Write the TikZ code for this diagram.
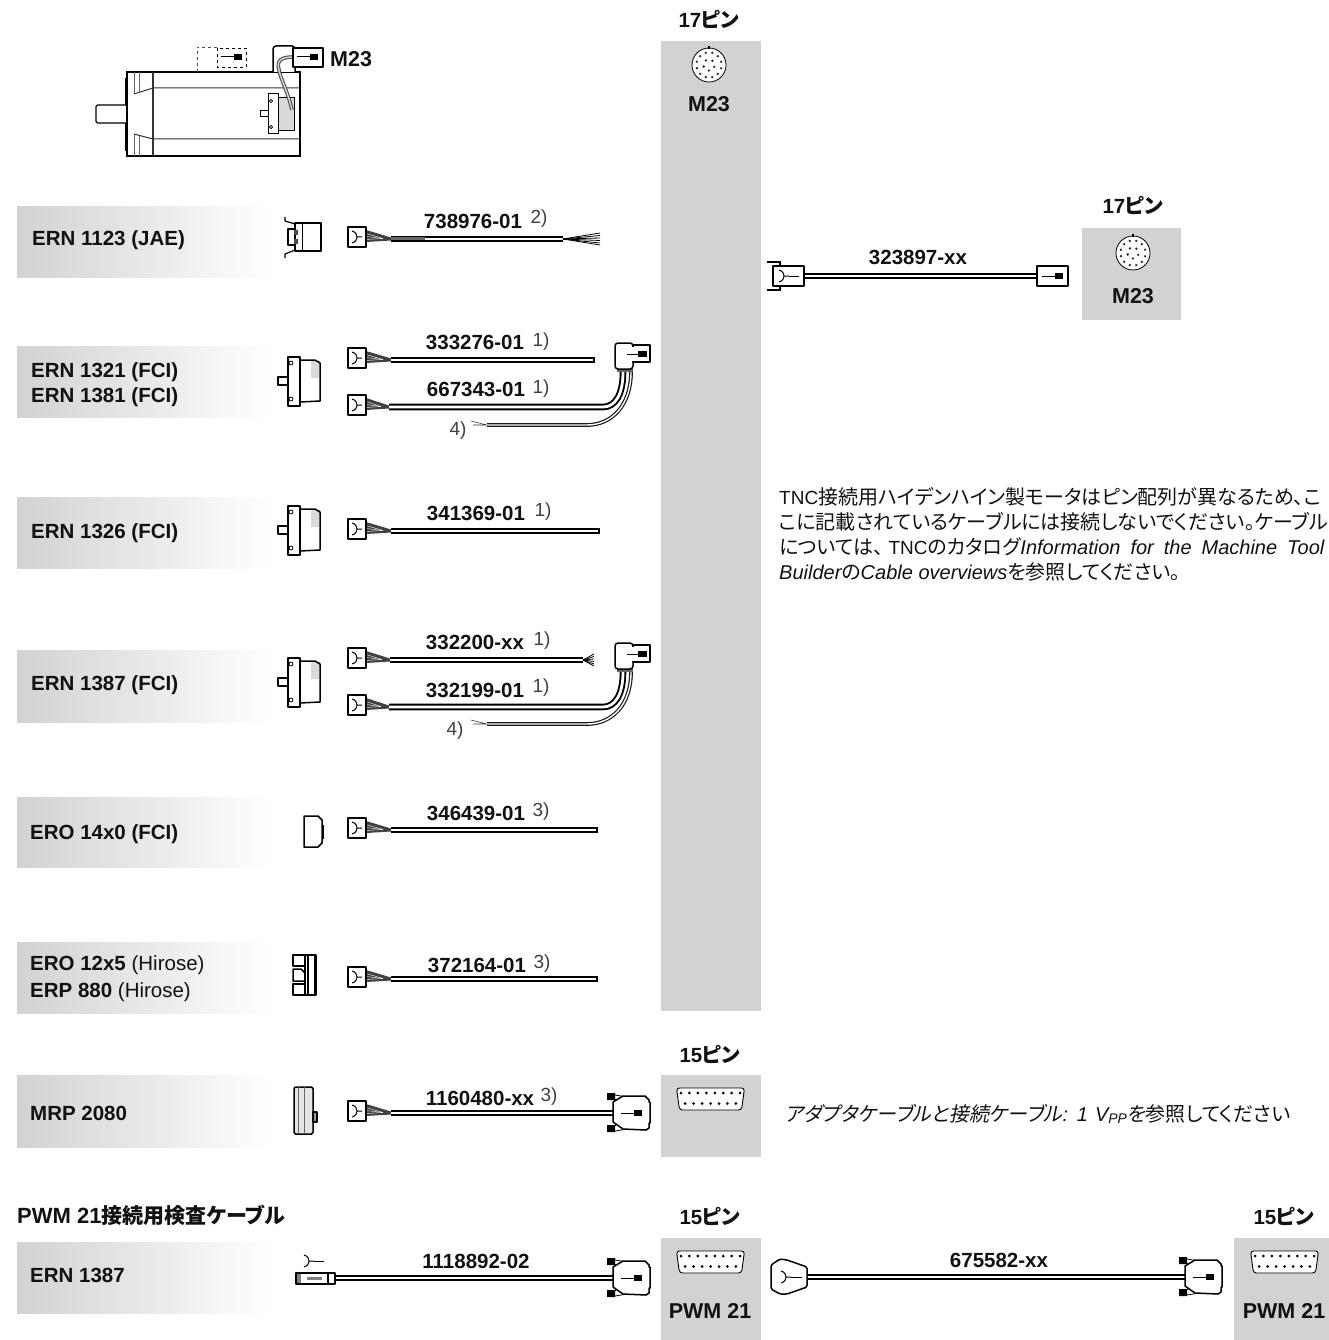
\documentclass[tikz,border=0pt]{standalone}
\usepackage{fontspec}
\usepackage{xcolor}
\usepackage{tikz}
\setmainfont{Liberation Sans}
\newfontfamily\jpfont[RawFeature={+palt}]{Noto Sans CJK JP}
\newfontfamily\jpslant[FakeSlant=0.2,RawFeature={+palt}]{Noto Sans CJK JP}
\definecolor{panelc}{HTML}{D2D2D3}
\definecolor{bodyc}{HTML}{DADADA}
\definecolor{notec}{HTML}{404040}
\definecolor{inkc}{HTML}{111111}
\tikzset{
  pinlabel/.style={font=\fontsize{20.5}{20}\selectfont\bfseries,inner sep=0pt,anchor=base,inkc},
  panellabel/.style={font=\fontsize{21.5}{20}\selectfont\bfseries,inner sep=0pt,anchor=base,inkc},
  partno/.style={font=\fontsize{20.5}{20}\selectfont\bfseries,inner sep=0pt,anchor=base,inkc},
  enclabel/.style={font=\fontsize{20.5}{20}\selectfont\bfseries,inner sep=0pt,anchor=base west,inkc},
  notemark/.style={font=\fontsize{19}{20}\selectfont,inner sep=0pt,anchor=base,notec},
  bodytext/.style={font=\fontsize{20}{20}\selectfont,inner sep=0pt,anchor=base west,inkc},
  cable/.style={draw=black,line width=1.9pt,double=white,double distance=2.8pt},
  thincable/.style={draw=black!90,line width=1.2pt,double=white,double distance=1.4pt},
  outline/.style={draw=black,line width=1.5pt,line join=round,fill=white},
  fine/.style={draw=black,line width=0.8pt}
}
\newcommand{\forkmark}[2]{%
  \draw[fine,line width=1pt] (#1-5,#2-6) .. controls (#1-1,#2-5) and (#1,#2-2) .. (#1,#2) .. controls (#1,#2+2) and (#1-1,#2+5) .. (#1-5,#2+6) (#1,#2)--(#1+5,#2);}
\newcommand{\pinmark}[2]{%
  \draw[fine,line width=1pt] (#1,#2)--(#1+13,#2);
  \fill[black] (#1+13,#2-3) rectangle (#1+21,#2+3);}
\newcommand{\encplug}[3]{%
  \begin{scope}[shift={(#1,#2)}]
  \fill[black!75] (18,-9)--(#3,-1.5)--(#3,1.5)--(18,3)--cycle;
  \foreach \s in {-5.5,-2.5,0.5}{\draw[white,line width=0.4pt] (18,\s)--(#3-8,-0.5);}
  \draw[outline] (0,-12) rectangle (18,8);
  \forkmark{9}{-2}
  \end{scope}}
\newcommand{\subdplug}[2]{%
  \begin{scope}[shift={(#1,#2)}]
  \fill[black] (-6,-20) rectangle (2,-13) (-6,12) rectangle (2,19);
  \draw[fine] (2,-18)--(14,-16) (2,-14)--(4,-11) (2,18)--(14,16) (2,13)--(4,10);
  \draw[outline] (0,-11)--(10,-17)--(32,-17)--(36,-13)--(36,-11)--(37,-11)--(37,10)--(36,10)--(36,15)--(33,17)--(10,16)--(0,9)--cycle;
  \pinmark{8}{0}
  \end{scope}}
\newcommand{\angleplug}[2]{%
  \begin{scope}[shift={(#1,#2)}]
  \fill[black!60] (2,24) rectangle (18,29);
  \draw[outline,rounded corners=3pt] (0,26)--(0,0)--(18,0)--(18,26)--cycle;
  \draw[outline] (18,2) rectangle (35,19);
  \draw[fill=white,draw=none] (16.5,3.5) rectangle (19.5,17.5);
  \draw[fine,line width=1pt] (12,11)--(23,11);
  \fill[black] (23,8) rectangle (32,14);
  \end{scope}}
\newcommand{\rotary}[2]{%
  \begin{scope}[shift={(#1,#2)}]
  \draw[fill=white,line width=0.8pt] (0,0) circle (17);
  \fill[black] (-1,-18.5) rectangle (1,-16);
  \foreach \a in {15,45,...,345}{\fill[black!85] (\a:12.5) circle (1.3);}
  \foreach \a in {20,92,164,236,308}{\fill[black!85] (\a:5.5) circle (1.3);}
  \end{scope}}
\newcommand{\subdface}[2]{%
  \begin{scope}[shift={(#1,#2)}]
  \draw[draw=black,fill=white,line width=0.9pt,rounded corners=3pt] (-34,-11)--(34,-11)--(31,11)--(-31,11)--cycle;
  \foreach \k in {0,...,7}{\fill[black] (-29.5+\k*8.45,-6) circle (1.5);}
  \foreach \k in {0,...,6}{\fill[black] (-25.3+\k*8.45,4.5) circle (1.5);}
  \end{scope}}
\newcommand{\encbody}[1]{%
  \begin{scope}[shift={(278,#1)}]
  \draw[outline] (0,-4) rectangle (10,4);
  \fill[bodyc] (33,-20) rectangle (42,-3);
  \draw[outline,fill=none] (22,-21)--(37,-21)--(42,-18)--(42,20)--(22,21)--cycle;
  \fill[bodyc] (35,-19)--(41,-17)--(41,-2)--(37,-7)--cycle;
  \draw[outline,line width=1.3pt] (10,-24) rectangle (22,25);
  \draw[fine] (13,-18) circle (2) (13,18) circle (2);
  \end{scope}}
\begin{document}
\begin{tikzpicture}[x=1pt,y=-1pt]
\useasboundingbox (0,0) rectangle (1329,1340);
\clip (0,0) rectangle (1329,1340);
% grey panels
\fill[panelc] (661,41) rectangle (761,1011);
\fill[panelc] (1082,228) rectangle (1181,320);
\fill[panelc] (661,1075) rectangle (761,1157);
\fill[panelc] (661,1238) rectangle (761,1340);
\fill[panelc] (1234,1238) rectangle (1329,1340);
\foreach \ya/\yb in {207/277,346/417,497/568,650/722,797/867,942/1013,1075/1147,1242/1313}{
  \shade[left color=panelc,right color=white] (17,\ya) rectangle (272,\yb);
}
% motor
\draw[fill=black!45,draw=black,line width=0.6pt] (125,78) rectangle (127,150);
\draw[outline,rounded corners=1.5pt,line width=1.2pt] (127,105)--(96,105)--(96,123)--(127,123);
\draw[draw=black,line width=1.3pt] (127,72) rectangle (300,156);
\draw[black!60,line width=1pt] (134,72)--(134,94) (134,134)--(134,156) (139,72)--(139,92) (139,136)--(139,156);
\draw[black!80,line width=1.7pt] (153,72)--(153,156);
\draw[black!80,line width=1pt] (134,94)--(153,88)--(300,88) (134,134)--(153,139)--(300,139);
\draw[outline,fill=white,line width=1pt] (260,111) rectangle (268,117);
\draw[outline,fill=white,line width=1pt] (268,94) rectangle (278,134);
\draw[outline,fill=bodyc,line width=1pt] (278,98)--(294,98)--(294,131)--(278,131)--cycle;
\draw[fine] (271,101) circle (1.6) (271,127) circle (1.6);
\draw[outline,rounded corners=3pt] (273,72)--(273,46)--(295,46)--(295,72);
\draw[draw=black!70,line width=1.1pt,double=black!15,double distance=1.4pt] (293,57) .. controls (282,57) and (276,60) .. (279,70) .. controls (281,80) and (288,92) .. (292,110);
\draw[outline] (293,48) rectangle (323,67);
\pinmark{297}{57}
\draw[black!70,line width=0.9pt,dashed] (197,72)--(197,47)--(218,47);
\draw[black,line width=0.9pt,dashed] (217,48) rectangle (246,67);
\pinmark{221}{57}
\node[enclabel,font=\fontsize{21.5}{20}\selectfont\bfseries] (m23motor) at (330,67) {M23};
% encoder heads
\begin{scope}[shift={(295,238)}]
\draw[outline] (0,-15) rectangle (26,13);
\draw[outline,line width=1.2pt,fill=none] (-10,-21)--(-10,-17)--(0,-14) (-10,20)--(-10,16)--(0,12);
\draw[outline,line width=1.2pt] (-7,-9) rectangle (0,7);
\fill[black!70] (-1,-8) rectangle (3,-3) (-1,1) rectangle (3,6);
\draw[fine] (7,-14)--(7,12);
\end{scope}
\encbody{381}
\encbody{530}
\encbody{682}
\draw[outline] (304,816)--(318,816)--(322,820)--(322,843)--(318,847)--(304,847)--cycle;
\draw[fill=black] (322,825) rectangle (323.5,838);
\begin{scope}[shift={(293,954)}]
\draw[outline] (0,1) rectangle (12,12) (0,30) rectangle (12,41);
\draw[outline] (0,15)--(8,15)--(12,19)--(12,27)--(0,27)--cycle;
\draw[outline,fill=white] (12,1) rectangle (23,41);
\draw[fine,line width=2.6pt] (15,0)--(15,42);
\draw[fine,line width=2pt] (22,0)--(22,42);
\end{scope}
\draw[outline,rounded corners=1.5pt,fill=black!10] (294,1087) rectangle (313,1134);
\draw[fine,black!60] (298,1087)--(298,1134) (304,1087)--(304,1134);
\draw[outline,fill=black!40] (313,1112) rectangle (317,1122);
% cables
\encplug{348}{239}{43}
\coordinate (ca) at (391,239); \coordinate (cb) at (563,239);
\draw[cable] (ca)--(cb);
\fill[black!60] (391,237.5) rectangle (425,240.5);
\foreach \s in {-6,-3.5,-1,1.5,4,6}{\draw[black,line width=0.8pt] (cb)--(600,239+\s);}
\encplug{348}{360}{43}
\coordinate (da) at (391,360); \coordinate (db) at (594,360);
\draw[cable] (da)--(db);
\draw[black,line width=1.2pt] (db)++(0,-3.2)--++(0,6.4);
\encplug{348}{407}{41}
\coordinate (ea) at (389,407); \coordinate (eb) at (623,372);
\draw[cable] (ea)--(603,407) .. controls (615,407) and (623,395) .. (eb);
\coordinate (fa) at (487,425); \coordinate (fb) at (631,372);
\draw[thincable] (fa)--(587,425) .. controls (612,425) and (631,405) .. (fb);
\draw[black!80,line width=0.6pt] (fa)--(471,421) (fa)--(473,425);
\angleplug{615}{343}
\encplug{348}{531}{43}
\coordinate (ga) at (391,531); \coordinate (gb) at (599,531);
\draw[cable] (ga)--(gb);
\draw[black,line width=1.2pt] (gb)++(0,-3.2)--++(0,6.4);
\encplug{348}{660}{42}
\coordinate (ha) at (390,660); \coordinate (hb) at (583,660);
\draw[cable] (ha)--(hb);
\foreach \s in {-6,-3.5,-1,1.5,4,6}{\draw[black,line width=0.8pt] (hb)--(594,660+\s);}
\encplug{348}{707}{41}
\coordinate (ia) at (389,707); \coordinate (ib) at (623,672);
\draw[cable] (ia)--(603,707) .. controls (615,707) and (623,695) .. (ib);
\coordinate (ja) at (487,724); \coordinate (jb) at (631,672);
\draw[thincable] (ja)--(587,724) .. controls (612,724) and (631,705) .. (jb);
\draw[black!80,line width=0.6pt] (ja)--(471,720) (ja)--(473,724);
\angleplug{615}{643}
\encplug{348}{830}{43}
\coordinate (ka) at (391,830); \coordinate (kb) at (597,830);
\draw[cable] (ka)--(kb);
\draw[black,line width=1.2pt] (kb)++(0,-3.2)--++(0,6.4);
\encplug{348}{979}{43}
\coordinate (la) at (391,979); \coordinate (lb) at (597,979);
\draw[cable] (la)--(lb);
\draw[black,line width=1.2pt] (lb)++(0,-3.2)--++(0,6.4);
\encplug{348}{1113}{43}
\coordinate (ma) at (391,1113); \coordinate (mb) at (613,1113);
\draw[cable] (ma)--(mb);
\subdplug{613}{1113}
\coordinate (na) at (335,1278); \coordinate (nb) at (613,1278);
\draw[cable] (na)--(nb);
\draw[outline,fill=white] (296,1273) rectangle (335,1284);
\fill[black!50] (297,1274) rectangle (301,1283);
\fill[black!50] (307,1277) rectangle (322,1280);
\draw[fine,line width=1.3pt] (328,1273)--(328,1284);
\forkmark{309}{1261}
\draw[fine,line width=1pt] (314,1261)--(324,1261);
\subdplug{613}{1278}
% adapter cables
\coordinate (pa) at (804,276); \coordinate (pb) at (1037,276);
\draw[cable] (pa)--(pb);
\draw[fine,line width=1.1pt] (767,262)--(780,262)--(780,266) (767,290)--(780,290)--(780,286);
\draw[outline] (773,266) rectangle (804,286);
\forkmark{784}{276}
\draw[fine,line width=1pt] (789,276)--(799,276);
\draw[outline] (1037,266) rectangle (1068,286);
\pinmark{1042}{276}
\coordinate (qa) at (807,1277); \coordinate (qb) at (1185,1277);
\draw[cable] (qa)--(qb);
\draw[outline,rounded corners=1.5pt] (771,1265)--(780,1259)--(787,1260)--(807,1267)--(807,1287)--(787,1294)--(780,1294)--(771,1289)--cycle;
\forkmark{786}{1277}
\draw[fine,line width=1pt] (791,1277)--(802,1277);
\subdplug{1185}{1277}
% connector faces
\rotary{709}{65}
\rotary{1133}{253}
\subdface{710.5}{1099}
\subdface{710.5}{1262}
\subdface{1284.5}{1262}
% encoder labels
\node[enclabel] (l1) at (32,245) {ERN 1123 (JAE)};
\node[enclabel] (l2) at (31,377) {ERN 1321 (FCI)};
\node[enclabel] (l3) at (31,402) {ERN 1381 (FCI)};
\node[enclabel] (l4) at (31,538) {ERN 1326 (FCI)};
\node[enclabel] (l5) at (31,690) {ERN 1387 (FCI)};
\node[enclabel] (l6) at (30,839) {ERO 14x0 (FCI)};
\node[enclabel] (l7) at (30,970) {ERO 12x5 {\mdseries (Hirose)}};
\node[enclabel] (l8) at (30,997) {ERP 880 {\mdseries (Hirose)}};
\node[enclabel] (l9) at (30,1120) {MRP 2080};
\node[enclabel] (l10) at (30,1282) {ERN 1387};
\node[enclabel,font=\fontsize{22}{20}\selectfont\bfseries] (l11) at (17,1223) {PWM 21{\fontsize{21}{20}\selectfont\jpfont 接続用検査ケーブル}};
% part numbers
\node[partno] (p1) at (473,229) {738976-01};
\node[notemark] (n1) at (539,224) {2)};
\node[partno] (p2) at (475,349) {333276-01};
\node[notemark] (n2) at (541,346) {1)};
\node[partno] (p3) at (476,396) {667343-01};
\node[notemark] (n3) at (541,393) {1)};
\node[notemark] (n4) at (458,435) {4)};
\node[partno] (p4) at (476,520) {341369-01};
\node[notemark] (n5) at (543,516) {1)};
\node[partno] (p5) at (475,649) {332200-xx};
\node[notemark] (n6) at (542,645) {1)};
\node[partno] (p6) at (475,697) {332199-01};
\node[notemark] (n7) at (541,692) {1)};
\node[notemark] (n8) at (455,735) {4)};
\node[partno] (p7) at (476,820) {346439-01};
\node[notemark] (n9) at (541,816) {3)};
\node[partno] (p8) at (477,972) {372164-01};
\node[notemark] (n10) at (542,968) {3)};
\node[partno] (p9) at (480,1105) {1160480-xx};
\node[notemark] (n11) at (549,1101) {3)};
\node[partno] (p10) at (476,1268) {1118892-02};
\node[partno] (p11) at (999,1267) {675582-xx};
\node[partno] (p12) at (918,264) {323897-xx};
% pin counts
\node[pinlabel] (c1) at (709,28) {17{\jpfont ピン}};
\node[pinlabel] (c2) at (1133,214) {17{\jpfont ピン}};
\node[pinlabel] (c3) at (710,1062) {15{\jpfont ピン}};
\node[pinlabel] (c4) at (710,1224) {15{\jpfont ピン}};
\node[pinlabel] (c5) at (1284,1224) {15{\jpfont ピン}};
\node[panellabel] (t1) at (709,112) {M23};
\node[panellabel] (t2) at (1133,303) {M23};
\node[panellabel] (t3) at (710,1318) {PWM 21};
\node[panellabel] (t4) at (1284,1318) {PWM 21};
% remarks
\node[bodytext] (r1) at (779,504) {{\fontsize{19}{20}\selectfont TNC}{\jpfont 接続用ハイデンハイン製モータはピン配列が異なるため、こ}};
\node[bodytext] (r2) at (779,529) {{\jpfont こに記載されているケーブルには接続しないでください。ケーブル}};
\node[bodytext] (r3) at (779,554) {{\jpfont については、}\kern5pt{\fontsize{19}{20}\selectfont TNC}{\jpfont のカタログ}{\itshape\spaceskip=10pt Information for the Machine Tool}};
\node[bodytext] (r4) at (779,579) {{\itshape Builder}{\jpfont の}{\itshape Cable overviews}{\jpfont を参照してください。}};
\node[bodytext] (r5) at (785,1121) {{\jpslant アダプタケーブルと接続ケーブル}{\itshape\spaceskip=7pt: 1 V}\raisebox{-2pt}{\fontsize{14}{14}\selectfont\itshape PP}{\jpslant を}{\jpfont 参照してください}};
\end{tikzpicture}
\end{document}
